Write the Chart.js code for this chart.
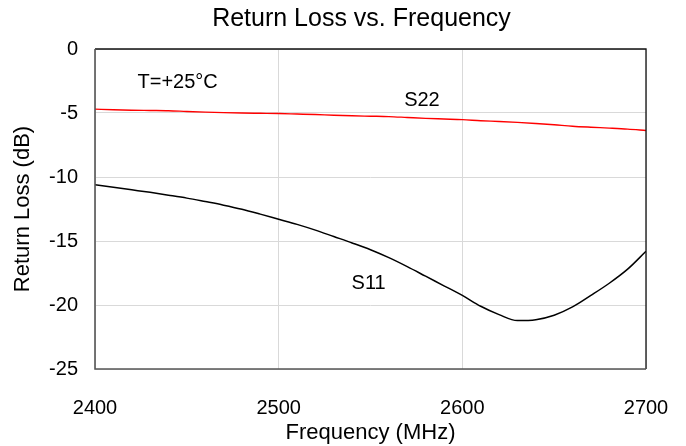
<!DOCTYPE html>
<html>
<head>
<meta charset="utf-8">
<script src="https://cdn.jsdelivr.net/npm/chart.js@4/dist/chart.umd.min.js"></script>
<style>
  html, body { margin: 0; padding: 0; background: #fff; }
  #wrap { width: 686px; height: 446px; }
</style>
</head>
<body>
<div id="wrap"><canvas id="c" width="686" height="446"></canvas></div>
<script>
// Frequency sweep (MHz)
const freqMHz = [2400, 2410, 2420, 2430, 2440, 2450, 2460, 2470, 2480, 2490,
                 2500, 2510, 2520, 2530, 2540, 2550, 2560, 2570, 2580, 2590,
                 2600, 2610, 2620, 2630, 2640, 2650, 2660, 2670, 2680, 2690, 2700];

// Input return loss S11 (dB)
const s11 = [-10.6, -10.8, -11.0, -11.2, -11.42, -11.65, -11.92, -12.2, -12.52, -12.9,
             -13.3, -13.7, -14.15, -14.65, -15.15, -15.68, -16.3, -17.0, -17.75, -18.5,
             -19.25, -20.1, -20.75, -21.22, -21.15, -20.8, -20.15, -19.25, -18.3, -17.2, -15.8];

// Output return loss S22 (dB)
const s22 = [-4.70, -4.75, -4.78, -4.80, -4.82, -4.88, -4.93, -4.97, -5.00, -5.02,
             -5.04, -5.08, -5.12, -5.18, -5.22, -5.25, -5.28, -5.35, -5.42, -5.47,
             -5.52, -5.60, -5.66, -5.73, -5.82, -5.92, -6.03, -6.11, -6.18, -6.26, -6.37];

// Axis ticks
const xTicks = [2400, 2500, 2600, 2700];
const yTicks = [0, -5, -10, -15, -20, -25];

// In-plot text labels, placed in data units
const noteText = ['T=+25°C', 'S22', 'S11'];
const noteFreq = [2445, 2578, 2549];
const noteDb   = [-2.58, -4.06, -18.3];

const chartTitle = 'Return Loss vs. Frequency';

const FONT = "'Liberation Sans', Arial, sans-serif";

const toPts = (ys) => freqMHz.map((f, i) => ({ x: f, y: ys[i] }));

// Title, frame around the plot area, and the in-plot labels
const framePlugin = {
  id: 'frame',
  afterDatasetsDraw(chart) {
    const { ctx, chartArea: a, scales } = chart;
    ctx.save();
    ctx.lineWidth = 1.3;
    // top and right edges
    ctx.strokeStyle = '#111';
    ctx.beginPath();
    ctx.moveTo(a.left, a.top);
    ctx.lineTo(a.right, a.top);
    ctx.lineTo(a.right, a.bottom);
    ctx.stroke();
    // left and bottom edges
    ctx.strokeStyle = '#555';
    ctx.lineWidth = 1.6;
    ctx.beginPath();
    ctx.moveTo(a.left, a.top);
    ctx.lineTo(a.left, a.bottom);
    ctx.lineTo(a.right, a.bottom);
    ctx.stroke();

    ctx.fillStyle = '#000';
    ctx.textAlign = 'center';
    ctx.textBaseline = 'middle';
    ctx.font = '20px ' + FONT;
    noteText.forEach((t, i) => {
      ctx.fillText(t, scales.x.getPixelForValue(noteFreq[i]), scales.y.getPixelForValue(noteDb[i]));
    });

    ctx.font = '25px ' + FONT;
    ctx.fillText(chartTitle, (a.left + a.right) / 2 - 9, a.top - 30);
    ctx.restore();
  }
};

new Chart(document.getElementById('c'), {
  type: 'line',
  data: {
    datasets: [
      { label: 'S22', data: toPts(s22), borderColor: '#ff0000', borderWidth: 1.4,
        pointRadius: 0, tension: 0.4, cubicInterpolationMode: 'monotone' },
      { label: 'S11', data: toPts(s11), borderColor: '#000000', borderWidth: 1.5,
        pointRadius: 0, tension: 0.4, cubicInterpolationMode: 'monotone' }
    ]
  },
  options: {
    responsive: false,
    animation: false,
    layout: { padding: { left: 0, right: 40, top: 49, bottom: 0 } },
    plugins: {
      legend: { display: false },
      tooltip: { enabled: false },
      title: { display: false }
    },
    scales: {
      x: {
        type: 'linear',
        min: 2400, max: 2700,
        afterBuildTicks: (s) => { s.ticks = xTicks.map(v => ({ value: v })); },
        afterFit: (s) => { s.height = 77; s.paddingLeft = 0; s.paddingRight = 0; },
        grid: { color: '#d9d9d9', lineWidth: 1, drawTicks: false },
        border: { display: false },
        ticks: { color: '#000', font: { family: FONT, size: 20 }, padding: 27, maxRotation: 0,
                 callback: (v) => String(v) },
        title: { display: true, text: 'Frequency (MHz)', color: '#000',
                 font: { family: FONT, size: 22 }, padding: { top: 0, bottom: 0 } }
      },
      y: {
        min: -25, max: 0,
        afterBuildTicks: (s) => { s.ticks = yTicks.map(v => ({ value: v })); },
        afterFit: (s) => { s.width = 95; s.paddingTop = 0; s.paddingBottom = 0; },
        grid: { color: '#d9d9d9', lineWidth: 1, drawTicks: false },
        border: { display: false },
        ticks: { color: '#000', font: { family: FONT, size: 20 }, padding: 17,
                 callback: (v) => String(v) },
        title: { display: true, text: 'Return Loss (dB)', color: '#000',
                 font: { family: FONT, size: 22 }, padding: { top: 10, bottom: 0 } }
      }
    }
  },
  plugins: [framePlugin]
});
</script>
</body>
</html>
